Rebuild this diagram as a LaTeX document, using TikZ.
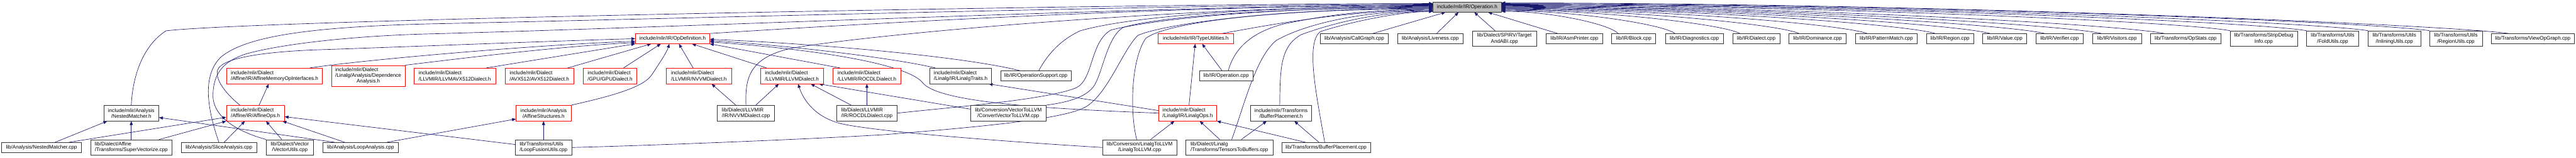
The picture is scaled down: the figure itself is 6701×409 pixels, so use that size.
\documentclass[tikz,border=0pt]{standalone}
\usepackage{fontspec}
\setmainfont{Liberation Sans}
\usetikzlibrary{arrows.meta}
\definecolor{edgeblue}{HTML}{191970}
\definecolor{rootgray}{HTML}{BFBFBF}
\newcommand\dgfont{\fontsize{13.3}{15}\selectfont}
\pgfdeclarelayer{edgelayer}
\pgfsetlayers{edgelayer,main}
\tikzset{
  fbox/.style={draw=black!80, line width=1.2pt, fill=white, inner sep=0pt, font=\dgfont, text=black},
  tbox/.style={fbox, draw=red},
  rbox/.style={fbox, fill=rootgray},
  hone/.style={minimum height=25.7pt},
  htwo/.style={minimum height=40.4pt},
  dep/.style={draw=edgeblue, line width=1.1pt, -{Triangle[length=10pt,width=8pt]}},
}
\begin{document}
\begin{tikzpicture}[x=1pt,y=-1pt]
\path[use as bounding box] (0,0) rectangle (6701,409);

% ---------- rank 0 ----------
\node[rbox,hone,minimum width=177pt] (op) at (3816.5,18.5) {include/mlir/IR/Operation.h};

% ---------- rank 1 ----------
\node[tbox,hone,minimum width=193pt] (opdef) at (1749.5,100.5) {include/mlir/IR/OpDefinition.h};
\node[tbox,hone,minimum width=195pt] (typeutil) at (3110.5,100.5) {include/mlir/IR/TypeUtilities.h};
\node[fbox,hone,minimum width=176pt] (callgraph) at (3523,100.5) {lib/Analysis/CallGraph.cpp};
\node[fbox,hone,minimum width=171pt] (liveness) at (3720.5,100.5) {lib/Analysis/Liveness.cpp};
\node[fbox,htwo,minimum width=167pt,align=center] (spirv) at (3913.5,100.5) {lib/Dialect/SPIRV/Target\\AndABI.cpp};
\node[fbox,hone,minimum width=147pt] (asmprinter) at (4095.5,100.5) {lib/IR/AsmPrinter.cpp};
\node[fbox,hone,minimum width=114.5pt] (block) at (4250,100.5) {lib/IR/Block.cpp};
\node[fbox,hone,minimum width=151pt] (diagnostics) at (4407.5,100.5) {lib/IR/Diagnostics.cpp};
\node[fbox,hone,minimum width=123pt] (dialectcpp) at (4568.5,100.5) {lib/IR/Dialect.cpp};
\node[fbox,hone,minimum width=148pt] (dominance) at (4728,100.5) {lib/IR/Dominance.cpp};
\node[fbox,hone,minimum width=160pt] (patternmatch) at (4907,100.5) {lib/IR/PatternMatch.cpp};
\node[fbox,hone,minimum width=123pt] (regioncpp) at (5072.5,100.5) {lib/IR/Region.cpp};
\node[fbox,hone,minimum width=114.5pt] (valuecpp) at (5215,100.5) {lib/IR/Value.cpp};
\node[fbox,hone,minimum width=123pt] (verifier) at (5357.5,100.5) {lib/IR/Verifier.cpp};
\node[fbox,hone,minimum width=128pt] (visitors) at (5507,100.5) {lib/IR/Visitors.cpp};
\node[fbox,hone,minimum width=183pt] (opstats) at (5685.5,100.5) {lib/Transforms/OpStats.cpp};
\node[fbox,htwo,minimum width=175pt,align=center] (stripdebug) at (5888.5,100.5) {lib/Transforms/StripDebug\\Info.cpp};
\node[fbox,htwo,minimum width=136pt,align=center] (foldutils) at (6068,100.5) {lib/Transforms/Utils\\/FoldUtils.cpp};
\node[fbox,htwo,minimum width=137pt,align=center] (inlining) at (6228.5,100.5) {lib/Transforms/Utils\\/InliningUtils.cpp};
\node[fbox,htwo,minimum width=137pt,align=center] (regionutils) at (6388.5,100.5) {lib/Transforms/Utils\\/RegionUtils.cpp};
\node[fbox,hone,minimum width=215pt] (viewopgraph) at (6588.5,100.5) {lib/Transforms/ViewOpGraph.cpp};

% ---------- rank 2 ----------
\node[tbox,htwo,minimum width=250pt,align=left] (affmemop) at (714,197.3) {include/mlir/Dialect\\/Affine/IR/AffineMemoryOpInterfaces.h};
\node[tbox,minimum height=54.7pt,minimum width=191pt] (depanal) at (958,197.3) {\begin{tabular}{@{}l@{}}include/mlir/Dialect\\/Linalg/Analysis/Dependence\\\multicolumn{1}{@{}c@{}}{Analysis.h}\end{tabular}};
\node[tbox,htwo,minimum width=212pt,align=left] (llvmavx512) at (1183,197.3) {include/mlir/Dialect\\/LLVMIR/LLVMAVX512Dialect.h};
\node[tbox,htwo,minimum width=179pt,align=left] (avx512) at (1403,197.3) {include/mlir/Dialect\\/AVX512/AVX512Dialect.h};
\node[tbox,htwo,minimum width=140pt,align=left] (gpu) at (1587,197.3) {include/mlir/Dialect\\/GPU/GPUDialect.h};
\node[tbox,htwo,minimum width=170pt,align=left] (nvvm) at (1818,197.3) {include/mlir/Dialect\\/LLVMIR/NVVMDialect.h};
\node[tbox,htwo,minimum width=164pt,align=left] (llvmdialect) at (2060,197.3) {include/mlir/Dialect\\/LLVMIR/LLVMDialect.h};
\node[tbox,htwo,minimum width=178pt,align=left] (rocdl) at (2255,197.3) {include/mlir/Dialect\\/LLVMIR/ROCDLDialect.h};
\node[fbox,htwo,minimum width=160pt,align=left] (linalgtraits) at (2499,197.3) {include/mlir/Dialect\\/Linalg/IR/LinalgTraits.h};
\node[fbox,hone,minimum width=183pt] (opsupport) at (2694.5,197.3) {lib/IR/OperationSupport.cpp};
\node[fbox,hone,minimum width=139pt] (operationcpp) at (3189.5,197.3) {lib/IR/Operation.cpp};

% ---------- rank 3 ----------
\node[fbox,htwo,minimum width=143pt,align=center] (nestedh) at (341.5,294) {include/mlir/Analysis\\/NestedMatcher.h};
\node[tbox,htwo,minimum width=151pt,align=left] (affineops) at (664.5,294) {include/mlir/Dialect\\/Affine/IR/AffineOps.h};
\node[tbox,htwo,minimum width=143pt,align=center] (affstruct) at (1414,294) {include/mlir/Analysis\\/AffineStructures.h};
\node[fbox,htwo,minimum width=149pt,align=left] (nvvmcpp) at (1940.5,294) {lib/Dialect/LLVMIR\\/IR/NVVMDialect.cpp};
\node[fbox,htwo,minimum width=158pt,align=left] (rocdlcpp) at (2255,294) {lib/Dialect/LLVMIR\\/IR/ROCDLDialect.cpp};
\node[fbox,htwo,minimum width=196pt,align=center] (convvec) at (2623,294) {lib/Conversion/VectorToLLVM\\/ConvertVectorToLLVM.cpp};
\node[tbox,htwo,minimum width=151pt,align=left] (linalgops) at (3089.5,294) {include/mlir/Dialect\\/Linalg/IR/LinalgOps.h};
\node[fbox,htwo,minimum width=159pt,align=center] (bufplaceh) at (3332.5,294) {include/mlir/Transforms\\/BufferPlacement.h};

% ---------- rank 4 ----------
\node[fbox,hone,minimum width=207pt] (nestedcpp) at (108,383.3) {lib/Analysis/NestedMatcher.cpp};
\node[fbox,htwo,minimum width=211pt,align=left] (supervec) at (341.5,383.3) {lib/Dialect/Affine\\/Transforms/SuperVectorize.cpp};
\node[fbox,hone,minimum width=197pt] (slice) at (569.5,383.3) {lib/Analysis/SliceAnalysis.cpp};
\node[fbox,htwo,minimum width=122.5pt,align=center] (vectorutils) at (754,383.3) {lib/Dialect/Vector\\/VectorUtils.cpp};
\node[fbox,hone,minimum width=196pt] (loopanal) at (938,383.3) {lib/Analysis/LoopAnalysis.cpp};
\node[fbox,htwo,minimum width=146pt,align=left] (loopfusion) at (1414,383.3) {lib/Transforms/Utils\\/LoopFusionUtils.cpp};
\node[fbox,htwo,minimum width=193pt,align=center] (linalgtollvm) at (2964.5,383.3) {lib/Conversion/LinalgToLLVM\\/LinalgToLLVM.cpp};
\node[fbox,htwo,minimum width=226pt,align=left] (tensors) at (3198,383.3) {lib/Dialect/Linalg\\/Transforms/TensorsToBuffers.cpp};
\node[fbox,hone,minimum width=231pt] (bufplacecpp) at (3449.5,383.3) {lib/Transforms/BufferPlacement.cpp};

\begin{pgfonlayer}{edgelayer}
% ----- into Operation.h from the left -----
\draw[dep] (nestedh.north) .. controls (345,200) and (370,120) .. (432,80) .. controls (700,50) and (3000,9) .. (op.174);
\draw[dep] (slice.north) .. controls (545,300) and (520,200) .. (575,148) .. controls (640,95) and (800,70) .. (1120,62) .. controls (1700,50) and (3100,11) .. (op.175);
\draw[dep] (vectorutils.north west) .. controls (610,340) and (552,300) .. (554,245) .. controls (556,190) and (580,160) .. (640,140) .. controls (750,110) and (950,92) .. (1120,88) .. controls (1800,70) and (3100,13) .. (op.176);
\draw[dep] (opdef.north east) .. controls (2300,58) and (3100,14) .. (op.177);
\draw[dep] (nvvmcpp.north) .. controls (1938,200) and (1950,150) .. (2060,125) .. controls (2300,85) and (3100,16) .. (op.178);
\draw[dep] ([xshift=7.5pt]opsupport.north) .. controls (2715,160) and (2745,110) .. (2810,80) .. controls (2950,40) and (3300,17) .. (op.179);
\draw[dep] (rocdlcpp.east) .. controls (2480,278) and (2720,260) .. (2800,228) .. controls (2845,205) and (2835,110) .. (2890,78) .. controls (3000,50) and (3300,19) .. (op.180);
\draw[dep] (convvec.north east) .. controls (2760,268) and (2825,258) .. (2848,220) .. controls (2870,180) and (2880,100) .. (2920,72) .. controls (3000,45) and (3300,20) .. (op.181);
\draw[dep] (loopfusion.east) .. controls (1700,378) and (2100,362) .. (2300,350) .. controls (2550,330) and (2760,310) .. (2820,280) .. controls (2880,250) and (2920,130) .. (2960,92) .. controls (3020,65) and (3300,22) .. (op.182);
\draw[dep] ([xshift=-7.5pt]linalgtollvm.north) .. controls (2940,300) and (2940,160) .. (2980,100) .. controls (3030,60) and (3300,23) .. (op.183);
\draw[dep] ([xshift=5.5pt]operationcpp.north) .. controls (3210,130) and (3250,85) .. (3340,62) .. controls (3450,40) and (3550,25) .. (op.184);
\draw[dep] ([xshift=68.5pt]typeutil.north) .. controls (3300,65) and (3500,27) .. (op.185);
\draw[dep] ([xshift=6pt]tensors.north) .. controls (3235,280) and (3265,150) .. (3320,105) .. controls (3400,60) and (3550,28) .. (op.186);
\draw[dep] ([xshift=-3.5pt]bufplaceh.north) .. controls (3330,180) and (3330,120) .. (3385,90) .. controls (3480,55) and (3600,30) .. (op.187);
\draw[dep] ([xshift=-3.5pt]bufplacecpp.north) .. controls (3425,250) and (3395,110) .. (3435,82) .. controls (3520,55) and (3640,31) .. (op.187);

% ----- into Operation.h from below -----
\draw[dep] ([xshift=48pt]callgraph.north) -- ([xshift=-56.5pt]op.south);
\draw[dep] ([xshift=16.5pt]liveness.north) -- ([xshift=-22.5pt]op.south);
\draw[dep] ([xshift=-24.5pt]spirv.north) -- ([xshift=18.5pt]op.south);
\draw[dep] ([xshift=-43.5pt]asmprinter.north) -- ([xshift=54.5pt]op.south);

% ----- into Operation.h from the right -----
\foreach \n/\sh/\sx/\sy/\ang in {
  block/-41/4209/87.7/-7, diagnostics/-50.5/4357/87.7/-6, dialectcpp/-42.5/4526/87.7/-5,
  dominance/-48/4680/87.7/-4, patternmatch/-50/4857/87.7/-3, regioncpp/-38.5/5034/87.7/-2,
  valuecpp/-38/5177/87.7/-1, verifier/-38.5/5319/87.7/0, visitors/-40/5467/87.7/1,
  opstats/-55.5/5630/87.7/2, stripdebug/-87.5/5801/80.3/3, foldutils/-68/6000/80.3/4,
  inlining/-68.5/6160/80.3/5, regionutils/-68.5/6320/80.3/6, viewopgraph/-62.5/6526/87.7/7}{
  \pgfmathsetmacro{\ay}{18.5-88.5*tan(\ang)}
  \draw[dep] ([xshift=\sh pt]\n.north) .. controls ({\sx-0.07*(\sx-3905)},{\sy-25}) and ({3905+0.42*(\sx-3905)},\ay) .. (op.\ang);
}

% ----- into OpDefinition.h -----
\draw[dep] ([xshift=-40.5pt]affineops.north) .. controls (595,250) and (558,210) .. (566,182) .. controls (578,148) and (700,135) .. (810,130) .. controls (1050,122) and (1450,106) .. (opdef.west);
\draw[dep] ([xshift=92pt]affmemop.north) .. controls (950,155) and (1400,116) .. (opdef.184);
\draw[dep] (depanal.north east) .. controls (1150,158) and (1450,120) .. (opdef.186);
\draw[dep] ([xshift=82pt]llvmavx512.north) -- (opdef.south west);
\draw[dep] ([xshift=74pt]avx512.north) -- ([xshift=-55.5pt]opdef.south);
\draw[dep] ([xshift=35pt]gpu.north) -- ([xshift=-30.5pt]opdef.south);
\draw[dep] (affstruct.north east) .. controls (1600,248) and (1675,225) .. (1695,195) .. controls (1715,165) and (1735,135) .. ([xshift=-8.5pt]opdef.south);
\draw[dep] ([xshift=-15pt]nvvm.north) -- ([xshift=16.5pt]opdef.south);
\draw[dep] ([xshift=-66pt]llvmdialect.north) -- ([xshift=50.5pt]opdef.south);
\draw[dep] ([xshift=-70pt]rocdl.north) -- (opdef.south east);
\draw[dep] ([xshift=-66pt]linalgtraits.north) .. controls (2320,150) and (2050,118) .. (opdef.-3);
\draw[dep] ([xshift=-40.5pt]opsupport.north) .. controls (2500,145) and (2100,112) .. (opdef.-1);
\draw[dep] (linalgops.west) .. controls (2700,282) and (2440,265) .. (2400,215) .. controls (2365,170) and (2150,130) .. (opdef.-5);

% ----- into TypeUtilities.h / LinalgTraits.h -----
\draw[dep] ([xshift=3.5pt]linalgops.north) -- ([xshift=-1.5pt]typeutil.south);
\draw[dep] ([xshift=-10.5pt]operationcpp.north) -- ([xshift=16.5pt]typeutil.south);
\draw[dep] (linalgops.175) -- ([xshift=73pt]linalgtraits.south);

% ----- Affine / Analysis -----
\draw[dep] ([xshift=35pt]nestedcpp.north) -- ([xshift=-62.5pt]nestedh.south);
\draw[dep] (supervec.north) -- (nestedh.south);
\draw[dep] ([xshift=-67pt]loopanal.north) -- (nestedh.-9);
\draw[dep] ([xshift=71pt]nestedcpp.north) -- (affineops.188);
\draw[dep] ([xshift=72.5pt]supervec.north) -- (affineops.south west);
\draw[dep] ([xshift=13.5pt]slice.north) -- ([xshift=-27.5pt]affineops.south);
\draw[dep] ([xshift=-21pt]vectorutils.north) -- ([xshift=27.5pt]affineops.south);
\draw[dep] ([xshift=-41pt]loopanal.north) -- ([xshift=70.5pt]affineops.south);
\draw[dep] (loopfusion.174) -- (affineops.-7);
\draw[dep] ([xshift=68pt]loopanal.north) -- (affstruct.192);
\draw[dep] (loopfusion.north) -- (affstruct.south);
\draw[dep] ([xshift=9.5pt]affineops.north) -- ([xshift=-15pt]affmemop.south);

% ----- LLVM dialects -----
\draw[dep] ([xshift=-26.5pt]nvvmcpp.north) -- ([xshift=33pt]nvvm.south);
\draw[dep] ([xshift=25.5pt]nvvmcpp.north) -- ([xshift=-34pt]llvmdialect.south);
\draw[dep] ([xshift=-41pt]rocdlcpp.north) -- ([xshift=49pt]llvmdialect.south);
\draw[dep] (rocdlcpp.north) -- (rocdl.south);
\draw[dep] (convvec.174) -- ([xshift=70pt]llvmdialect.south);
\draw[dep] (linalgtollvm.west) .. controls (2650,370) and (2300,345) .. (2190,322) .. controls (2120,305) and (2090,260) .. ([xshift=16pt]llvmdialect.south);

% ----- Linalg / buffers -----
\draw[dep] ([xshift=28.5pt]linalgtollvm.north) -- ([xshift=-34.5pt]linalgops.south);
\draw[dep] ([xshift=-25pt]tensors.north) -- ([xshift=31.5pt]linalgops.south);
\draw[dep] ([xshift=31pt]tensors.north) -- ([xshift=-37.5pt]bufplaceh.south);
\draw[dep] ([xshift=-53.5pt]bufplacecpp.north) -- (linalgops.south east);
\draw[dep] ([xshift=-18.5pt]bufplacecpp.north) -- ([xshift=34.5pt]bufplaceh.south);
\end{pgfonlayer}
\end{tikzpicture}
\end{document}
